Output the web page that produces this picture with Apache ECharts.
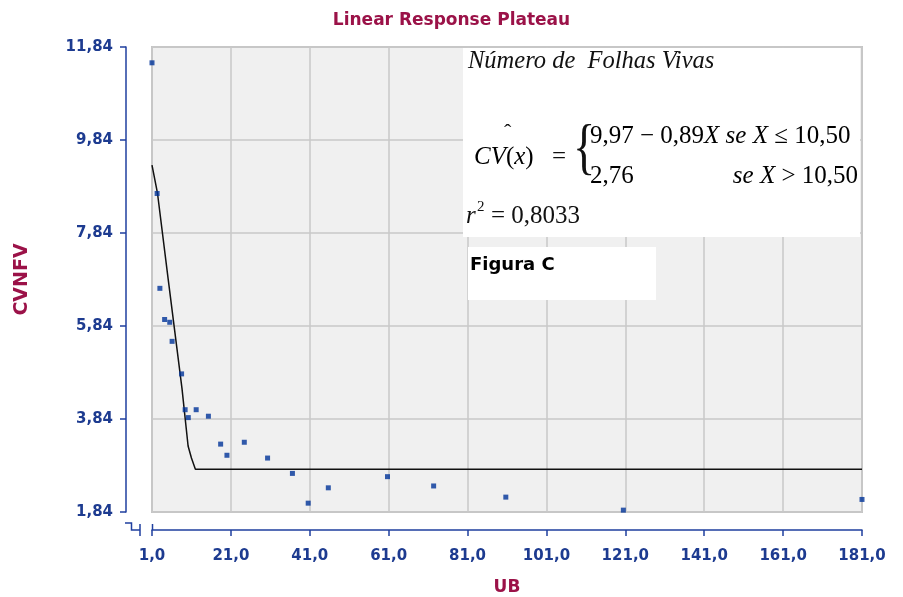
<!DOCTYPE html>
<html><head><meta charset="utf-8">
<script src="https://cdn.jsdelivr.net/npm/echarts@6/dist/echarts.min.js"></script>
<style>html,body{margin:0;padding:0;background:#fff}#c{width:903px;height:597px}</style>
</head><body><div id="c"></div>
<script>
// Observed data points (UB, CVNFV)
const obsX = [1, 2.3, 3.0, 4.2, 5.5, 6.1, 8.5, 9.4, 10.2, 12.2, 15.3, 18.4, 20.0, 24.4, 30.3, 36.6, 40.6, 45.7, 60.7, 72.4, 90.7, 120.5, 181];
const obsY = [11.50, 8.69, 6.65, 5.98, 5.92, 5.51, 4.81, 4.04, 3.87, 4.04, 3.90, 3.30, 3.06, 3.34, 3.00, 2.67, 2.03, 2.36, 2.60, 2.40, 2.16, 1.88, 2.11];
// Fitted linear response plateau curve as drawn
const fitX = [1, 2.4, 5.1, 8.6, 10.15, 11.0, 12.0, 181];
const fitY = [9.30, 8.69, 6.85, 4.50, 3.26, 3.00, 2.76, 2.76];
// Tick values
const yTicks = [1.84, 3.84, 5.84, 7.84, 9.84, 11.84];
const xTicks = [1, 21, 41, 61, 81, 101, 121, 141, 161, 181];

const axisBlue = '#1f3f9f';
const labelBlue = '#1d3b90';
const darkRed = '#9b1248';
const comma = s => s.replace('.', ',');

const chart = echarts.init(document.getElementById('c'), null, {renderer: 'canvas'});
const mathFont = '"Liberation Serif", "DejaVu Serif", serif';
const mathRich = {
  n: {fontFamily: mathFont, fontSize: 25, color: '#111'},
  i: {fontFamily: mathFont, fontSize: 25, fontStyle: 'italic', color: '#111'}
};

chart.setOption({
  animation: false,
  backgroundColor: '#ffffff',
  title: {
    text: 'Linear Response Plateau', left: 'center', top: 7,
    textStyle: {fontFamily: 'DejaVu Sans', fontWeight: 'bold', fontSize: 17, color: darkRed}
  },
  grid: {
    left: 152, right: 41, top: 47, bottom: 85, show: true, containLabel: false, outerBoundsMode: 'none',
    backgroundColor: '#f0f0f0', borderColor: '#c4c4c4', borderWidth: 2
  },
  xAxis: {
    type: 'value', min: 1, max: 181, offset: 18,
    name: 'UB', nameLocation: 'middle', nameGap: 49,
    nameTextStyle: {fontFamily: 'DejaVu Sans', fontWeight: 'bold', fontSize: 17, color: darkRed},
    axisLine: {show: true, onZero: false, lineStyle: {color: axisBlue, width: 1.5}},
    axisTick: {show: true, length: 6, customValues: xTicks, lineStyle: {color: axisBlue, width: 1.5}},
    axisLabel: {customValues: xTicks, margin: 19, fontFamily: 'DejaVu Sans', fontWeight: 'bold', fontSize: 15, color: labelBlue,
      formatter: v => comma(v.toFixed(1))},
    splitLine: {show: true, lineStyle: {color: '#c8c8c8', width: 1.5}}
  },
  yAxis: {
    type: 'value', min: 1.84, max: 11.84, offset: 26,
    name: 'CVNFV', nameLocation: 'middle', nameGap: 94, nameRotate: 90,
    nameTextStyle: {fontFamily: 'DejaVu Sans', fontWeight: 'bold', fontSize: 19, color: darkRed},
    axisLine: {show: true, onZero: false, lineStyle: {color: axisBlue, width: 1.5}},
    axisTick: {show: true, length: 6, customValues: yTicks, lineStyle: {color: axisBlue, width: 1.5}},
    axisLabel: {customValues: yTicks, margin: 13, fontFamily: 'DejaVu Sans', fontWeight: 'bold', fontSize: 15, color: labelBlue,
      formatter: v => comma(v.toFixed(2))},
    splitLine: {show: true, lineStyle: {color: '#c8c8c8', width: 1.5}}
  },
  series: [
    {
      type: 'line', data: fitX.map((x, i) => [x, fitY[i]]),
      showSymbol: false, symbol: 'none', lineStyle: {color: '#111', width: 1.5}, z: 3
    },
    {
      type: 'scatter', data: obsX.map((x, i) => [x, obsY[i]]),
      symbol: 'rect', symbolSize: 5, itemStyle: {color: '#003399'}, z: 4
    }
  ],
  graphic: [
    {type: 'rect', z: 50, shape: {x: 463, y: 48, width: 397, height: 189}, style: {fill: '#ffffff'}},
    {type: 'rect', z: 50, shape: {x: 468, y: 247, width: 188, height: 53}, style: {fill: '#ffffff'}},
    {type: 'text', z: 60, left: 468, top: 49, style: {text: 'Número de  Folhas Vivas', font: 'italic 24.5px ' + mathFont, fill: '#111'}},
    {type: 'text', z: 60, left: 474, top: 145, style: {text: '{i|CV}{n|(}{i|x}{n|)}', rich: mathRich}},
    {type: 'text', z: 60, left: 504, top: 122, style: {text: 'ˆ', font: '22px ' + mathFont, fill: '#111'}},
    {type: 'text', z: 60, left: 552, top: 145, style: {text: '=', font: '25px ' + mathFont, fill: '#111'}},
    {type: 'text', z: 60, left: 573, top: 120, scaleX: 0.75, style: {text: '{', font: '62px ' + mathFont, fill: '#111'}},
    {type: 'text', z: 60, left: 590, top: 124, style: {text: '{n|9,97 − 0,89}{i|X se X }{n|≤ 10,50}', rich: mathRich}},
    {type: 'text', z: 60, left: 590, top: 164, style: {text: '{n|2,76}', rich: mathRich}},
    {type: 'text', z: 60, right: 45, top: 164, style: {text: '{i|se X }{n|> 10,50}', rich: mathRich}},
    {type: 'text', z: 60, left: 466, top: 204, style: {text: 'r', font: 'italic 25px ' + mathFont, fill: '#111'}},
    {type: 'text', z: 60, left: 477, top: 200, style: {text: '2', font: '15px ' + mathFont, fill: '#111'}},
    {type: 'text', z: 60, left: 491, top: 204, style: {text: '= 0,8033', font: '25px ' + mathFont, fill: '#111'}},
    {type: 'text', z: 60, left: 470, top: 256, style: {text: 'Figura C', font: 'bold 18px "DejaVu Sans"', fill: '#000'}},
    {type: 'polyline', z: 60, shape: {points: [[125, 523], [131.5, 523], [131.5, 530], [140, 530]]}, style: {stroke: axisBlue, lineWidth: 1.5, fill: null}},
    {type: 'line', z: 60, shape: {x1: 140, y1: 524, x2: 140, y2: 536}, style: {stroke: axisBlue, lineWidth: 1.5}},
    {type: 'line', z: 60, shape: {x1: 152.5, y1: 524, x2: 152.5, y2: 530}, style: {stroke: axisBlue, lineWidth: 1.5}}
  ]
});
</script>
</body></html>
